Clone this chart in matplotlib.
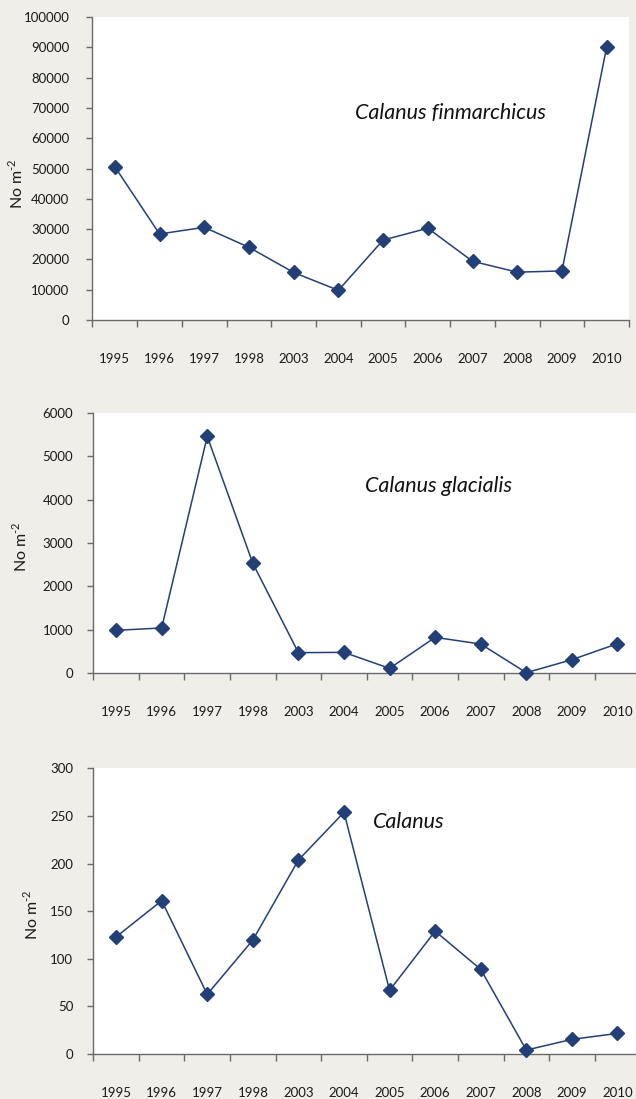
import matplotlib
matplotlib.use("Agg")
import matplotlib.pyplot as plt
import numpy as np

years = ["1995", "1996", "1997", "1998", "2003", "2004",
         "2005", "2006", "2007", "2008", "2009", "2010"]

finmarchicus = [50600, 28400, 30600, 24000, 15700, 9800,
                26400, 30300, 19400, 15800, 16200, 90100]
glacialis = [985, 1040, 5460, 2530, 470, 477,
             108, 823, 669, 8, 308, 677]
calanus = [123, 161, 62.7, 119.7, 203.7, 253.8,
           66.9, 129, 88.9, 4.2, 15.4, 21.7]

plt.rcParams["font.family"] = ["Lato", "DejaVu Sans"]
plt.rcParams["mathtext.fontset"] = "custom"
plt.rcParams["mathtext.rm"] = "Lato"

BG = "#efeee8"
LINE = "#233f78"
SPINE = "#6a6a6a"

fig = plt.figure(figsize=(6.36, 10.99), dpi=100, facecolor=BG)

panels = [
    # data, rect, ymax, ystep, title, title pos, ylabel pos, ytick pad
    (finmarchicus, [0.1454, 0.7088, 0.8436, 0.2757], 100000, 10000,
     "Calanus finmarchicus", (0.667, 0.683), (-0.124, 0.45), 12),
    (glacialis, [0.1467, 0.3876, 0.860, 0.2366], 6000, 1000,
     "Calanus glacialis", (0.632, 0.719), (-0.116, 0.485), 10),
    (calanus, [0.1467, 0.0409, 0.860, 0.2600], 300, 50,
     "Calanus", (0.577, 0.812), (-0.096, 0.487), 10),
]

x = np.arange(len(years)) + 0.5

for data, rect, ymax, ystep, title, tpos, lpos, ypad in panels:
    ax = fig.add_axes(rect)
    ax.set_facecolor("white")
    ax.plot(x, data, color=LINE, lw=1.1, marker="D", ms=7,
            markerfacecolor=LINE, markeredgecolor=LINE, clip_on=False, zorder=3)
    ax.set_xlim(0, len(years))
    ax.set_ylim(0, ymax)
    ax.set_yticks(np.arange(0, ymax + ystep, ystep))

    # ticks between categories, labels centred
    ax.set_xticks(np.arange(len(years) + 1))
    ax.set_xticklabels([])
    ax.set_xticks(x, minor=True)
    ax.set_xticklabels(years, minor=True)
    ax.tick_params(axis="x", which="major", length=5, width=1, color=SPINE,
                   direction="out")
    ax.tick_params(axis="x", which="minor", length=0, pad=24, labelsize=9.5,
                   labelcolor="#1a1a1a")
    ax.tick_params(axis="y", length=4.5, width=1, color=SPINE, pad=ypad,
                   labelsize=9.5, labelcolor="#1a1a1a")

    for side in ["top", "right"]:
        ax.spines[side].set_visible(False)
    for side in ["left", "bottom"]:
        ax.spines[side].set_color(SPINE)
        ax.spines[side].set_linewidth(1)

    ax.set_ylabel("No m$^{\\text{-2}}$", fontsize=11.5, color="#1a1a1a")
    ax.yaxis.set_label_coords(*lpos)

    ax.text(tpos[0], tpos[1], title, transform=ax.transAxes, ha="center",
            va="center", fontsize=15.5, style="italic", color="#111111")

fig.savefig("out.png", dpi=100, facecolor=BG)
